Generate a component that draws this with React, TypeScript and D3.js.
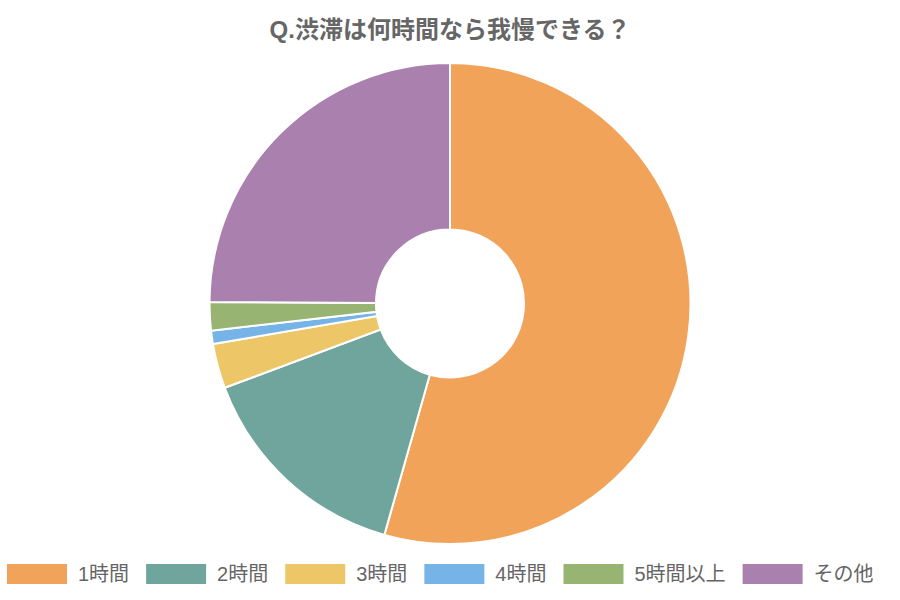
import React, { useMemo } from "react";
import * as d3 from "d3";

const categories = ["1時間", "2時間", "3時間", "4時間", "5時間以上", "その他"];
const values = [54.4, 14.9, 3.0, 0.9, 1.9, 24.9];
const colors = ["#F1A35A", "#70A59E", "#EDC767", "#76B4E7", "#97B473", "#AA80AF"];
const title = "Q.渋滞は何時間なら我慢できる？";

const W = 900;
const H = 600;
const FONT = "'Liberation Sans', Arial, 'Noto Sans CJK JP', sans-serif";

function measure(text: string, size: number, weight = "normal") {
  const c = document.createElement("canvas").getContext("2d");
  if (!c) return text.length * size;
  c.font = `${weight} ${size}px ${FONT}`;
  return c.measureText(text).width;
}

export default function App() {
  const cx = 450;
  const cy = 303.5;
  const outerR = 240.5;
  const innerR = 74;

  const pie = d3.pie<number>().sort(null).value((d) => d);
  const arcs = pie(values);
  const arcGen = d3.arc<d3.PieArcDatum<number>>().innerRadius(innerR).outerRadius(outerR);

  const legend = useMemo(() => {
    const boxW = 60;
    let x = 7;
    return categories.map((c, i) => {
      const tw = measure(c, 20);
      const item = { x, tx: x + boxW + 11, label: c, color: colors[i] };
      x = x + boxW + 11 + tw + 17;
      return item;
    });
  }, []);

  return (
    <svg
      width={W}
      height={H}
      style={{ position: "absolute", left: 0, top: 0, background: "#fff" }}
      fontFamily={FONT}
    >
      <text x={450} y={38} textAnchor="middle" fontSize={24} fontWeight="bold" fill="#666">
        {title}
      </text>
      <g transform={`translate(${cx},${cy})`}>
        {arcs.map((a, i) => (
          <path key={i} d={arcGen(a) || ""} fill={colors[i]} stroke="#fff" strokeWidth={2} />
        ))}
      </g>
      <g>
        {legend.map((l, i) => (
          <g key={i}>
            <rect x={l.x} y={564} width={60} height={20} fill={l.color} />
            <text x={l.tx} y={581} fontSize={20} fill="#666">
              {l.label}
            </text>
          </g>
        ))}
      </g>
    </svg>
  );
}
